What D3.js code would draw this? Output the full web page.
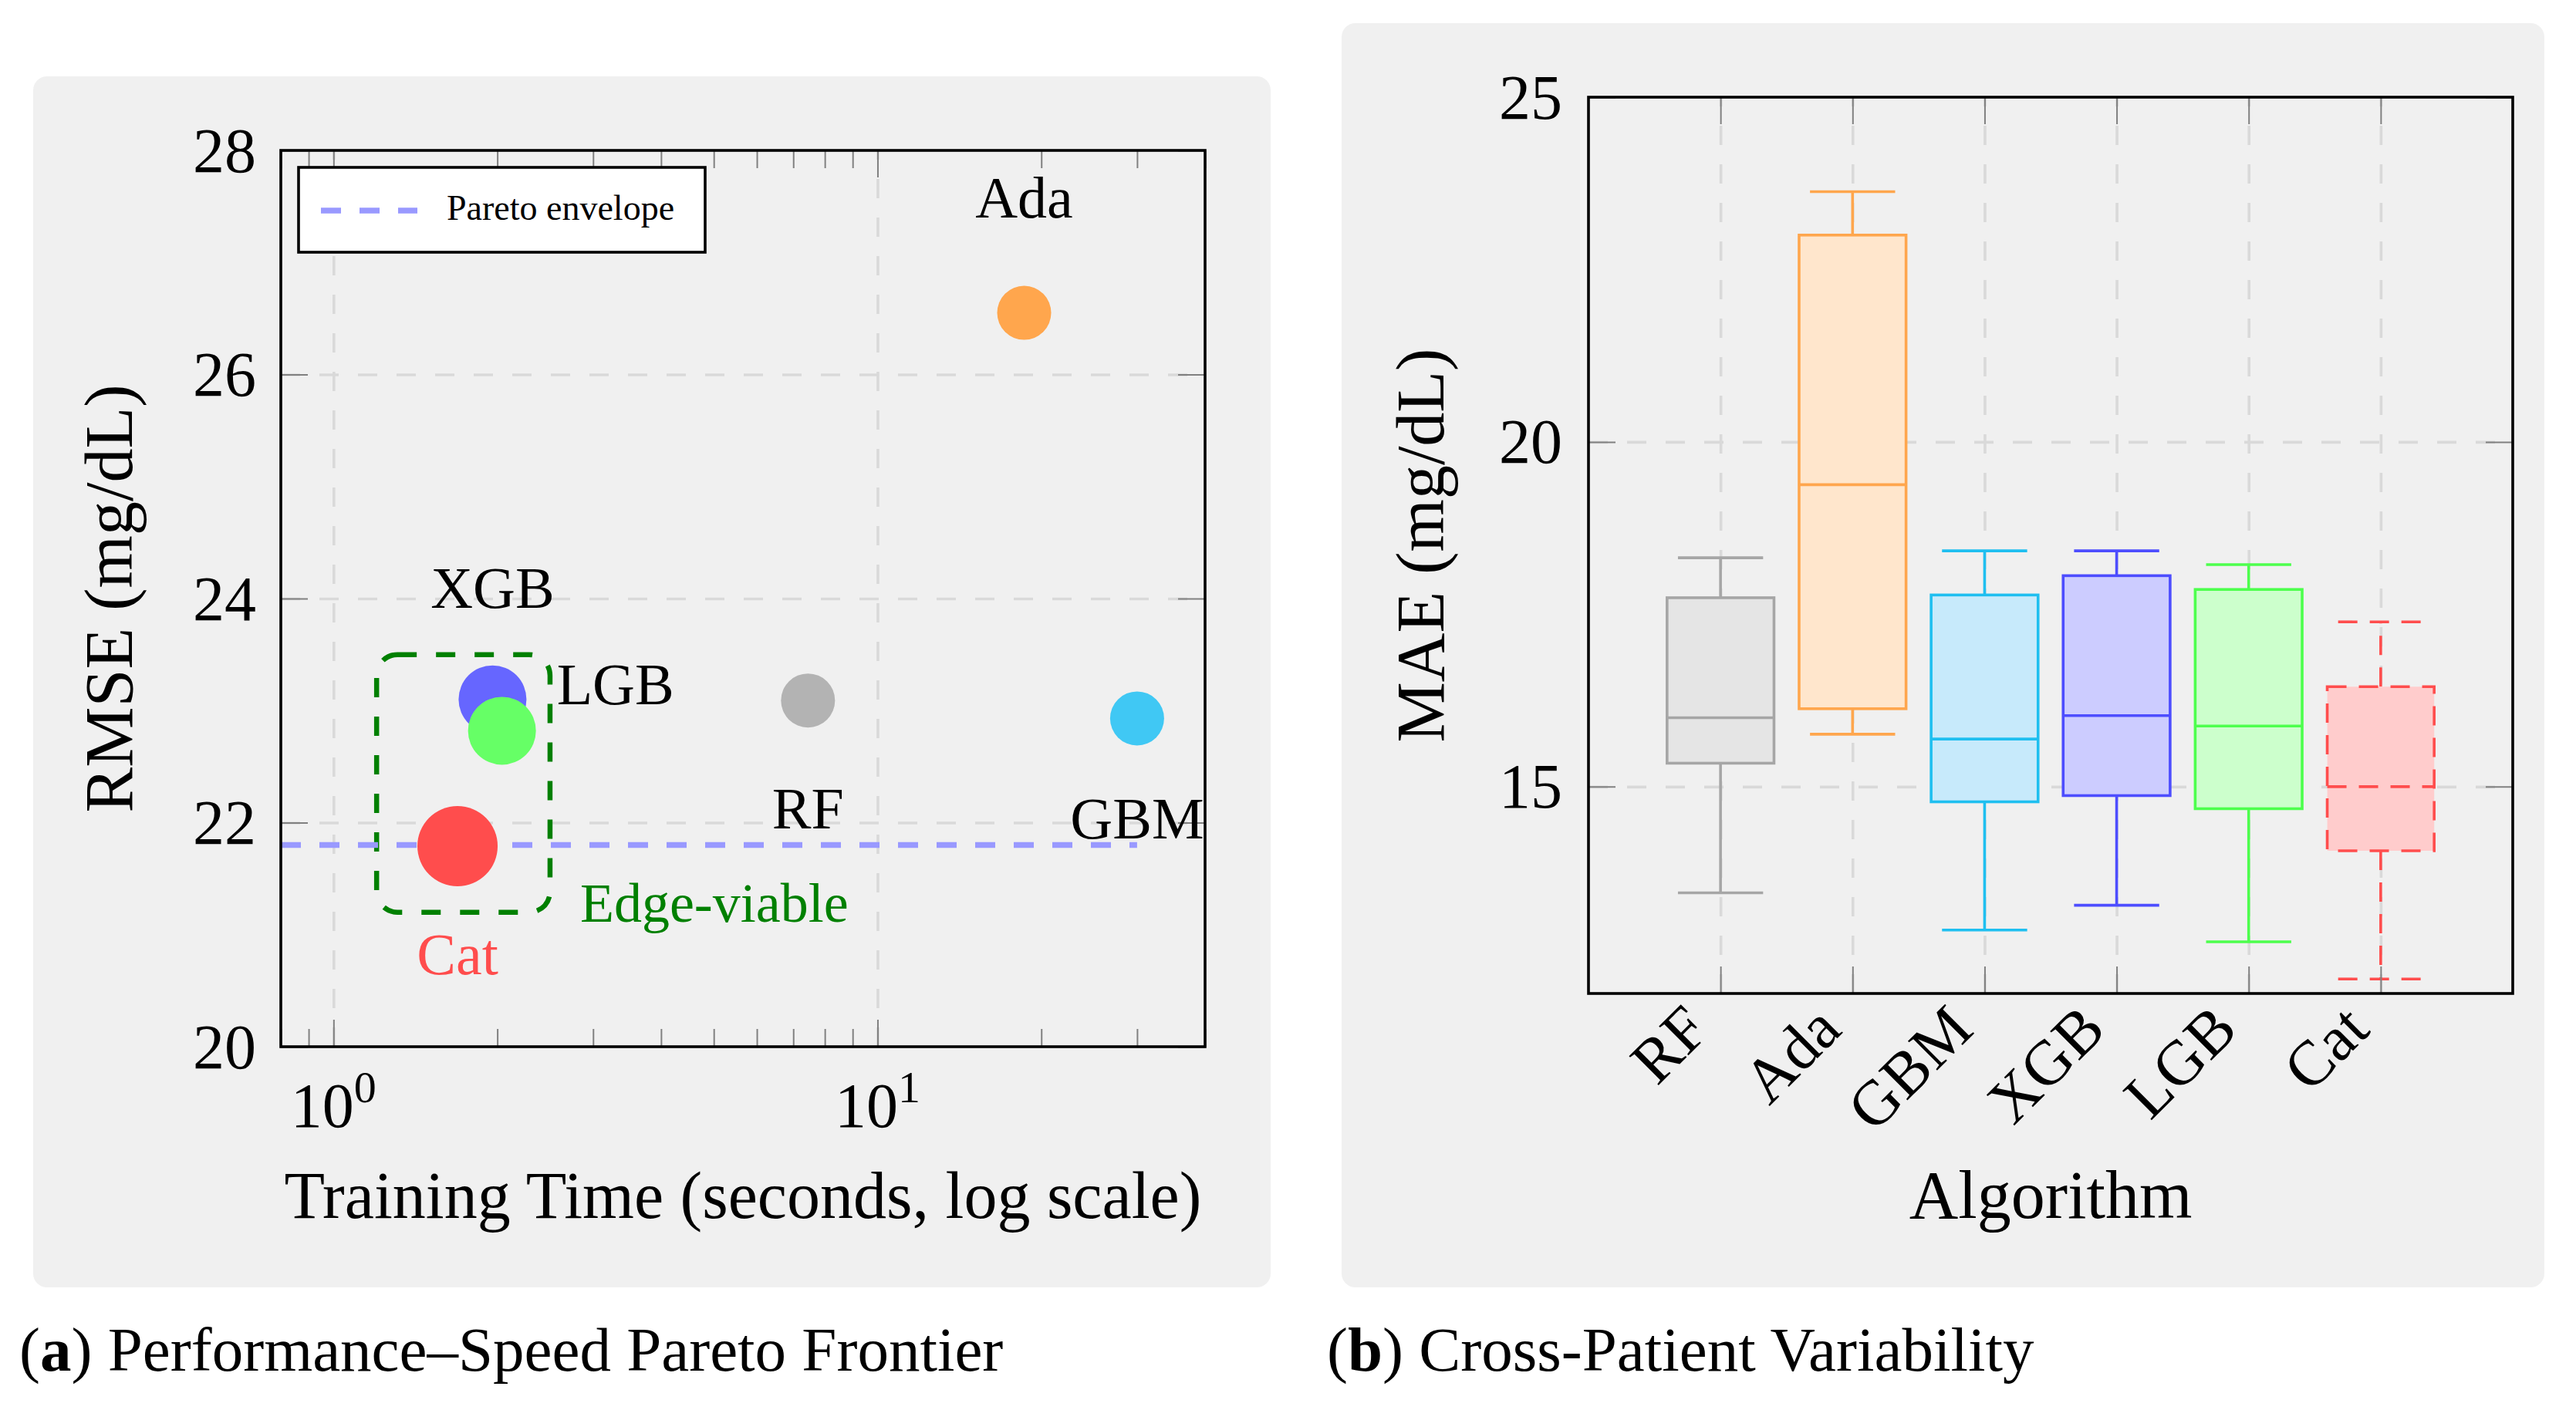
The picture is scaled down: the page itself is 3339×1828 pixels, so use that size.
<!DOCTYPE html>
<html>
<head>
<meta charset="utf-8">
<script src="https://cdn.jsdelivr.net/npm/d3@7"></script>
<style>
  body { margin: 0; background: #fff; }
  svg { display: block; font-family: "Liberation Serif", "Times New Roman", serif; }
</style>
</head>
<body>
<svg id="chart"></svg>
<script>
// data
const models = ["RF", "Ada", "GBM", "XGB", "LGB", "Cat"];
const trainTime = [7.45, 18.6, 30, 1.96, 2.04, 1.69];     // seconds
const rmse = [23.09, 26.55, 22.93, 23.10, 22.82, 21.79];  // mg/dL
const paretoTime = [0.8, 30];
const paretoRmse = [21.8, 21.8];
const edgeTime = [1.2, 2.5];
const edgeRmse = [21.2, 23.5];
const timeDomain = [0.8, 40];
const rmseDomain = [20, 28];
const timeTicks = [1, 10];
const rmseTicks = [20, 22, 24, 26, 28];

const maeLow = [13.46, 15.76, 12.92, 13.28, 12.75, 12.21];
const maeQ1 = [15.34, 16.13, 14.78, 14.87, 14.68, 14.07];
const maeMedian = [16.0, 19.38, 15.69, 16.03, 15.88, 15.0];
const maeQ3 = [17.74, 23.0, 17.78, 18.06, 17.86, 16.45];
const maeHigh = [18.32, 23.63, 18.42, 18.42, 18.22, 17.39];
const maeDomain = [12, 25];
const maeTicks = [15, 20, 25];

// styles
const dotColor = { RF: "#b3b3b3", Ada: "#ffa64d", GBM: "#40c8f4", XGB: "#6666ff", LGB: "#66ff66", Cat: "#ff4d4d" };
const dotRadius = { RF: 35, Ada: 35, GBM: 35, XGB: 44, LGB: 44, Cat: 52 };
const boxStroke = { RF: "#a6a6a6", Ada: "#ffa64d", GBM: "#1fbff0", XGB: "#4d4dff", LGB: "#4dff4d", Cat: "#ff4d4d" };
const boxFill = { RF: "#e5e5e5", Ada: "#ffe6cc", GBM: "#c7eafb", XGB: "#ccccff", LGB: "#ccffcc", Cat: "#ffcccc" };
// label anchor and pixel offset from the dot
const labelPlace = {
  RF: ["middle", 0, 166], Ada: ["middle", 0, -124], GBM: ["middle", 0, 156],
  XGB: ["middle", 0, -119], LGB: ["start", 71, -34], Cat: ["middle", 0, 166]
};

const W = 3339, H = 1828;
const left = { px: 43, py: 99, pw: 1604, ph: 1570, l: 364, r: 1562, t: 195, b: 1357 };
const right = { px: 1739, py: 30, pw: 1559, ph: 1639, l: 2059, r: 3257, t: 126, b: 1288 };
const gridColor = "#d9d9d9", tickColor = "#808080";

const svg = d3.select("#chart").attr("width", W).attr("height", H);

scatterPanel();
boxPanel();
captions();

function styleTicks(s, w) {
  s.attr("font-family", null).attr("font-size", null);
  s.select(".domain").remove();
  s.selectAll("line").attr("stroke", tickColor).attr("stroke-width", w || 2);
}
function styleGrid(s) {
  s.select(".domain").remove();
  s.selectAll("text").remove();
  s.selectAll("line").attr("stroke", gridColor).attr("stroke-width", 3.6).attr("stroke-dasharray", "25 25");
}

function scatterPanel() {
  const p = left;
  const g = svg.append("g");
  g.append("rect").attr("x", p.px).attr("y", p.py).attr("width", p.pw).attr("height", p.ph)
    .attr("rx", 18).attr("fill", "#f0f0f0");

  const x = d3.scaleLog().domain(timeDomain).range([p.l, p.r]);
  const y = d3.scaleLinear().domain(rmseDomain).range([p.b, p.t]);
  const innerY = rmseTicks.filter(d => d > rmseDomain[0] && d < rmseDomain[1]);
  const minor = x.ticks().filter(d => !timeTicks.includes(d));

  // grid
  g.append("g").attr("transform", `translate(0,${p.b})`)
    .call(d3.axisBottom(x).tickValues(timeTicks).tickSize(-(p.b - p.t))).call(styleGrid);
  g.append("g").attr("transform", `translate(${p.l},0)`)
    .call(d3.axisLeft(y).tickValues(innerY).tickSize(-(p.r - p.l))).call(styleGrid);

  // ticks, pointing inwards
  g.append("g").attr("transform", `translate(0,${p.b})`)
    .call(d3.axisBottom(x).tickValues(timeTicks).tickSize(-35).tickFormat("")).call(styleTicks);
  g.append("g").attr("transform", `translate(0,${p.b})`)
    .call(d3.axisBottom(x).tickValues(minor).tickSize(-23).tickFormat("")).call(styleTicks);
  g.append("g").attr("transform", `translate(0,${p.t})`)
    .call(d3.axisTop(x).tickValues(timeTicks).tickSize(-35).tickFormat("")).call(styleTicks);
  g.append("g").attr("transform", `translate(0,${p.t})`)
    .call(d3.axisTop(x).tickValues(minor).tickSize(-23).tickFormat("")).call(styleTicks);
  g.append("g").attr("transform", `translate(${p.r},0)`)
    .call(d3.axisRight(y).tickValues(rmseTicks).tickSize(-35).tickFormat("")).call(styleTicks);
  g.append("g").attr("transform", `translate(${p.l},0)`)
    .call(d3.axisLeft(y).tickValues(rmseTicks).tickSize(-35).tickPadding(32))
    .call(styleTicks)
    .call(s => s.selectAll("text").attr("fill", "#000").attr("font-size", 82).attr("dy", "0.33em"));

  // 10^k labels
  const xl = g.append("g").selectAll("text").data(timeTicks).join("text")
    .attr("x", d => x(d)).attr("y", p.b + 104).attr("text-anchor", "middle").attr("font-size", 82);
  xl.append("tspan").text("10");
  xl.append("tspan").attr("dy", -32).attr("font-size", 58).text(d => Math.round(Math.log10(d)));

  // edge-viable box
  g.append("rect")
    .attr("x", x(edgeTime[0])).attr("y", y(edgeRmse[1]))
    .attr("width", x(edgeTime[1]) - x(edgeTime[0])).attr("height", y(edgeRmse[0]) - y(edgeRmse[1]))
    .attr("rx", 27).attr("fill", "none").attr("stroke", "#008000").attr("stroke-width", 6.5)
    .attr("stroke-dasharray", "25 25");
  g.append("text").attr("x", x(edgeTime[1]) + 39).attr("y", y(edgeRmse[0]) + 12)
    .attr("fill", "#008000").attr("font-size", 72).text("Edge-viable");

  // pareto envelope
  const line = d3.line().x(d => x(d[0])).y(d => y(d[1]));
  g.append("path").datum(d3.zip(paretoTime, paretoRmse)).attr("d", line)
    .attr("fill", "none").attr("stroke", "#9999ff").attr("stroke-width", 7.5).attr("stroke-dasharray", "26 24");

  // dots
  const pts = models.map((m, i) => ({ m, t: trainTime[i], v: rmse[i] }));
  g.append("g").selectAll("circle").data(pts).join("circle")
    .attr("cx", d => x(d.t)).attr("cy", d => y(d.v)).attr("r", d => dotRadius[d.m])
    .attr("fill", d => dotColor[d.m]);
  g.append("g").selectAll("text").data(pts).join("text")
    .attr("x", d => x(d.t) + labelPlace[d.m][1]).attr("y", d => y(d.v) + labelPlace[d.m][2])
    .attr("text-anchor", d => labelPlace[d.m][0]).attr("font-size", 76)
    .attr("fill", d => d.m === "Cat" ? dotColor.Cat : "#000").text(d => d.m);

  // legend
  const lg = g.append("g");
  lg.append("rect").attr("x", 387).attr("y", 217).attr("width", 527).attr("height", 110)
    .attr("fill", "#fff").attr("stroke", "#000").attr("stroke-width", 3.6);
  lg.append("line").attr("x1", 416).attr("x2", 541).attr("y1", 273).attr("y2", 273)
    .attr("stroke", "#9999ff").attr("stroke-width", 7.5).attr("stroke-dasharray", "26 24");
  lg.append("text").attr("x", 579).attr("y", 285).attr("font-size", 46).text("Pareto envelope");

  // frame and axis titles
  g.append("rect").attr("x", p.l).attr("y", p.t).attr("width", p.r - p.l).attr("height", p.b - p.t)
    .attr("fill", "none").attr("stroke", "#000").attr("stroke-width", 3.6);
  g.append("text").attr("x", (p.l + p.r) / 2).attr("y", 1579).attr("text-anchor", "middle")
    .attr("font-size", 86).text("Training Time (seconds, log scale)");
  g.append("text").attr("transform", `translate(171,${(p.t + p.b) / 2}) rotate(-90)`)
    .attr("text-anchor", "middle").attr("font-size", 88).text("RMSE (mg/dL)");
}

function boxPanel() {
  const p = right;
  const g = svg.append("g");
  g.append("rect").attr("x", p.px).attr("y", p.py).attr("width", p.pw).attr("height", p.ph)
    .attr("rx", 18).attr("fill", "#f0f0f0");

  const pos = models.map((m, i) => i + 1);
  const x = d3.scaleLinear().domain([0, models.length + 1]).range([p.l, p.r]);
  const y = d3.scaleLinear().domain(maeDomain).range([p.b, p.t]);
  const step = x(2) - x(1);

  g.append("g").attr("transform", `translate(0,${p.b})`)
    .call(d3.axisBottom(x).tickValues(pos).tickSize(-(p.b - p.t))).call(styleGrid);
  g.append("g").attr("transform", `translate(${p.l},0)`)
    .call(d3.axisLeft(y).tickValues(maeTicks.filter(d => d < maeDomain[1])).tickSize(-(p.r - p.l))).call(styleGrid);

  g.append("g").attr("transform", `translate(0,${p.t})`)
    .call(d3.axisTop(x).tickValues(pos).tickSize(-35).tickFormat("")).call(styleTicks);
  g.append("g").attr("transform", `translate(${p.r},0)`)
    .call(d3.axisRight(y).tickValues(maeTicks).tickSize(-35).tickFormat("")).call(styleTicks);

  // boxes
  const stats = models.map((m, i) => ({ m, i: i + 1, lo: maeLow[i], q1: maeQ1[i], med: maeMedian[i], q3: maeQ3[i], hi: maeHigh[i] }));
  const bw = step * 0.81, cw = step * 0.645;
  const box = g.append("g").selectAll("g").data(stats).join("g")
    .attr("stroke", d => boxStroke[d.m]).attr("stroke-width", 3.6)
    .attr("stroke-dasharray", d => d.m === "Cat" ? "25 16" : null);
  box.append("line").attr("x1", d => x(d.i)).attr("x2", d => x(d.i)).attr("y1", d => y(d.q3)).attr("y2", d => y(d.hi));
  box.append("line").attr("x1", d => x(d.i)).attr("x2", d => x(d.i)).attr("y1", d => y(d.q1)).attr("y2", d => y(d.lo));
  box.append("line").attr("x1", d => x(d.i) - cw / 2).attr("x2", d => x(d.i) + cw / 2).attr("y1", d => y(d.hi)).attr("y2", d => y(d.hi));
  box.append("line").attr("x1", d => x(d.i) - cw / 2).attr("x2", d => x(d.i) + cw / 2).attr("y1", d => y(d.lo)).attr("y2", d => y(d.lo));
  box.append("rect").attr("x", d => x(d.i) - bw / 2).attr("width", bw)
    .attr("y", d => y(d.q3)).attr("height", d => y(d.q1) - y(d.q3)).attr("fill", d => boxFill[d.m]);
  box.append("line").attr("x1", d => x(d.i) - bw / 2).attr("x2", d => x(d.i) + bw / 2).attr("y1", d => y(d.med)).attr("y2", d => y(d.med));

  // bottom ticks drawn over the whiskers, like the source
  g.append("g").attr("transform", `translate(0,${p.b})`)
    .call(d3.axisBottom(x).tickValues(pos).tickSize(-35).tickFormat(i => models[i - 1]))
    .call(styleTicks)
    .call(s => s.selectAll("text").attr("fill", "#000").attr("font-size", 82)
      .attr("y", null).attr("dy", null).attr("text-anchor", "end")
      .attr("transform", "translate(-12,50) rotate(-45)"));
  g.append("g").attr("transform", `translate(${p.l},0)`)
    .call(d3.axisLeft(y).tickValues(maeTicks).tickSize(-35).tickPadding(34))
    .call(styleTicks)
    .call(s => s.selectAll("text").attr("fill", "#000").attr("font-size", 82).attr("dy", "0.33em"));

  g.append("rect").attr("x", p.l).attr("y", p.t).attr("width", p.r - p.l).attr("height", p.b - p.t)
    .attr("fill", "none").attr("stroke", "#000").attr("stroke-width", 3.6);
  g.append("text").attr("x", (p.l + p.r) / 2).attr("y", 1579).attr("text-anchor", "middle")
    .attr("font-size", 88).text("Algorithm");
  g.append("text").attr("transform", `translate(1871,${(p.t + p.b) / 2}) rotate(-90)`)
    .attr("text-anchor", "middle").attr("font-size", 88).text("MAE (mg/dL)");
}

function captions() {
  const caps = [
    { x: 25, tag: "a", text: "Performance\u2013Speed Pareto Frontier" },
    { x: 1720, tag: "b", text: "Cross-Patient Variability" }
  ];
  const t = svg.append("g").selectAll("text").data(caps).join("text")
    .attr("x", d => d.x).attr("y", 1777).attr("font-size", 81);
  t.append("tspan").text("(");
  t.append("tspan").attr("font-weight", "bold").text(d => d.tag);
  t.append("tspan").text(d => ") " + d.text);
}
</script>
</body>
</html>
